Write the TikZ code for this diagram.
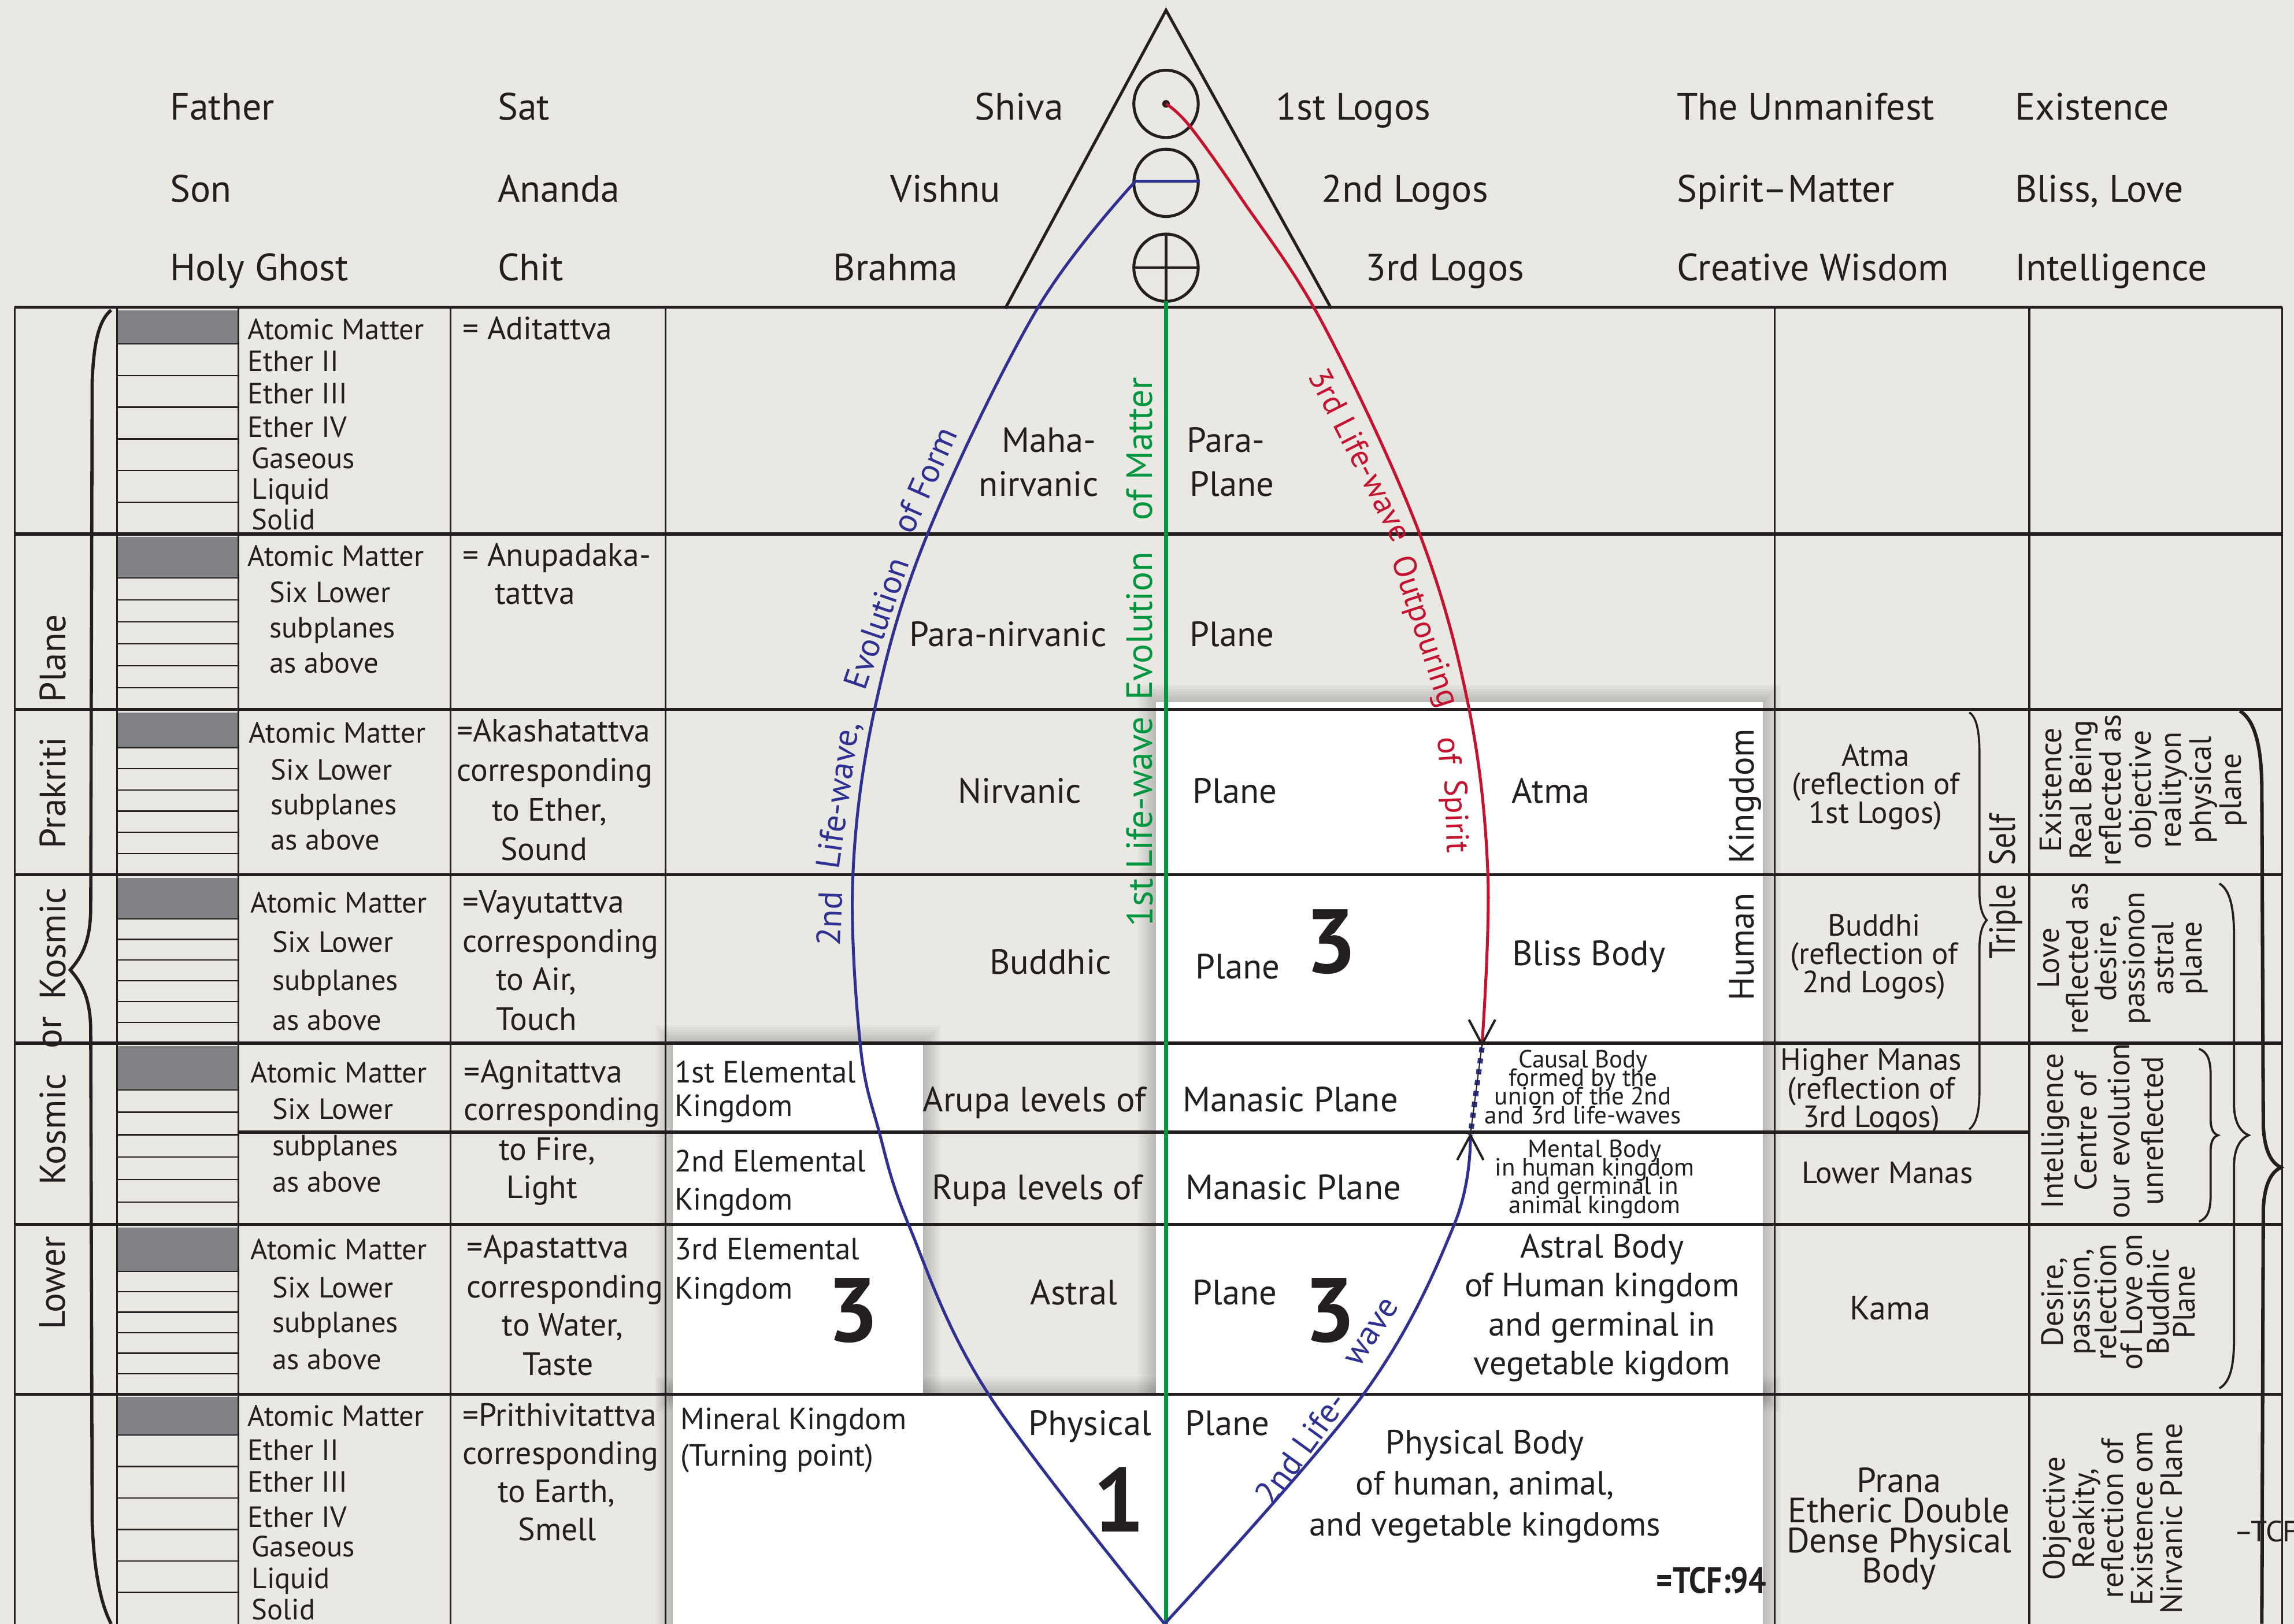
\documentclass[tikz,border=0pt]{standalone}
\usepackage{fontspec}
\setmainfont{PT Sans}
\newfontfamily\condf[FakeStretch=0.85]{PT Sans}
\usetikzlibrary{calc}
\newcommand\myfs[2]{\fontsize{#1}{#2}\selectfont\lineskiplimit=-100pt\relax}
\definecolor{paper}{HTML}{E9E8E3}
\definecolor{lblue}{HTML}{2E3192}
\definecolor{lred}{HTML}{C4122F}
\definecolor{lgreen}{HTML}{00963F}
\definecolor{boxgray}{HTML}{808285}
\definecolor{ink}{HTML}{231F20}
\begin{document}
\begin{tikzpicture}[x=1pt,y=-1pt,
  every node/.style={inner sep=0pt, text=ink},
  hdr/.style={anchor=base west, font=\myfs{26}{30}},
  hdrr/.style={anchor=base east, font=\myfs{26}{30}},
  sub/.style={anchor=base west, font=\myfs{20}{22}},
  tat/.style={anchor=base west, font=\myfs{22}{26}},
  king/.style={anchor=base west, font=\myfs{21}{24}},
  bigdig/.style={font=\bfseries\myfs{62}{62}},
  pl/.style={anchor=base, font=\myfs{24}{28}},
  bodyt/.style={align=center, font=\myfs{23}{26.5}},
  smallc/.style={align=center, font=\myfs{17}{12.7}},
  refl/.style={align=center, font=\myfs{21}{19.5}},
  vtxt/.style={rotate=90, align=center, font=\myfs{21}{20.5}},
  sidew/.style={rotate=90, font=\myfs{25}{30}},
  gw/.style={rotate=90, text=lgreen, font=\myfs{25}{30}},
  bw/.style={text=lblue, font=\myfs{23}{26}},
  rw/.style={text=lred, font=\myfs{22}{26}},
  hline/.style={draw=ink, line width=2.2pt},
  vline/.style={draw=ink, line width=1.3pt},
  subl/.style={draw=ink, line width=0.9pt},
  wave/.style={line width=2pt},
]
\useasboundingbox (0,0) rectangle (1568,1110);
\fill[paper] (0,0) rectangle (1568,1110);

% shadows and white panels
\foreach \r in {1,...,8}{
  \fill[black,opacity=0.025] ({790-1.5*\r},{480-1.5*\r}) rectangle ({1205+1.5*\r},{953+1.5*\r});
  \fill[black,opacity=0.025] ({460-1.5*\r},{713-1.5*\r}) rectangle ({631+1.5*\r},{953+1.5*\r});
  \fill[black,opacity=0.025] ({460-1.5*\r},{953-1.5*\r}) rectangle ({1205+1.5*\r},{1110+1.5*\r});
}
\fill[white] (790,480) rectangle (1205,953);
\fill[white] (460,713) rectangle (631,953);
\fill[white] (460,953) rectangle (1205,1110);

% subplane boxes
\foreach \ta/\tb/\tg in {210/365/23,365/485/28,485/598/24,598/713/28,713/837/30,837/953/30,953/1110/26}{
  \fill[boxgray] (80,{\ta+2}) rectangle (163,{\ta+2+\tg});
  \foreach \k in {0,...,5}{
    \draw[subl] (80,{\ta+2+\tg+\k*(\tb-\ta-2-\tg)/6}) -- (163,{\ta+2+\tg+\k*(\tb-\ta-2-\tg)/6});
  }
}

% table lines
\foreach \yy in {365,485,598,713,837,953} \draw[hline] (10,\yy) -- (1560,\yy);
\draw[hline] (163,774) -- (1387,774);
\draw[hline] (10,210) -- (1560,210);
\foreach \xx in {10,80,163,308,455,1213,1387,1560} \draw[vline] (\xx,210) -- (\xx,1110);

% triangle and circles
\draw[ink, line width=2pt, line join=miter] (687,211) -- (797,7) -- (910,211);
\draw[ink, line width=2pt] (797,71) ellipse [x radius=22pt, y radius=23pt];
\draw[ink, line width=2pt] (797,125) ellipse [x radius=22pt, y radius=23pt];
\draw[ink, line width=2pt] (797,183) ellipse [x radius=22pt, y radius=23pt];
\fill[ink] (797,71) circle [radius=2.6pt];
\draw[ink, line width=1.8pt] (797,160) -- (797,206);
\draw[ink, line width=1.8pt] (775,183) -- (819,183);

% life-waves
\draw[lgreen, line width=2.6pt] (797,206) -- (797,1110);
\draw[lblue, wave] (776,124) -- (820,124);
\draw[lblue, wave] plot[smooth, tension=0.6] coordinates {(776,124) (709,211) (634,365) (598,484) (583,598) (588,714) (601,774) (621,837) (675,952) (796,1110)};
\draw[lblue, wave] plot[smooth, tension=0.6] coordinates {(796,1110) (932,953) (994,837) (1005,776)};
\draw[lred, wave] plot[smooth, tension=0.6] coordinates {(797,71) (813,86) (848,135) (904,221) (970,364) (1004,484) (1017,598) (1013,714)};
\draw[lblue, line width=3.6pt, dash pattern=on 3.5pt off 4pt] (1013,716) -- (1005,776);
\draw[ink, line width=0.8pt] (1013,714) -- (1005,776);
\draw[ink, line width=1.6pt] (1004,697) -- (1013,714) -- (1022,697);
\draw[ink, line width=1.6pt] (996,793) -- (1005,776) -- (1014,793);

% braces
\draw[ink, line width=2.2pt] (76,212) .. controls (66,220) and (64,240) .. (63,260) -- (62,620) .. controls (62,645) and (55,655) .. (48,663) .. controls (55,671) and (62,681) .. (62,705) -- (63,1040) .. controls (64,1070) and (68,1095) .. (76,1110);
\draw[ink, line width=1.4pt] (1346,487) .. controls (1351,490) and (1353,500) .. (1353,515) -- (1353,610) .. controls (1353,622) and (1356,627) .. (1358,629) .. controls (1356,631) and (1353,636) .. (1353,648) -- (1353,745) .. controls (1353,760) and (1351,768) .. (1346,772);
\draw[ink, line width=1.5pt] (1503,717) .. controls (1509,719) and (1511,725) .. (1511,735) -- (1511,765) .. controls (1511,772) and (1513,775) .. (1516,776) .. controls (1513,777) and (1511,780) .. (1511,787) -- (1511,817) .. controls (1511,827) and (1509,833) .. (1503,835);
\draw[ink, line width=1.5pt] (1517,604) .. controls (1524,608) and (1527,620) .. (1527,640) -- (1527,755) .. controls (1527,768) and (1532,774) .. (1537,776) .. controls (1532,778) and (1527,784) .. (1527,797) -- (1527,915) .. controls (1527,935) and (1524,945) .. (1517,949);
\draw[ink, line width=2.4pt] (1531,486) .. controls (1541,492) and (1546,510) .. (1546,540) -- (1547,770) .. controls (1548,788) and (1553,795) .. (1559,798) .. controls (1553,801) and (1548,808) .. (1547,826) -- (1546,1110);

% header
\node[hdr] (father) at (116,82) {Father};
\node[hdr] (son) at (116,138) {Son};
\node[hdr] (holyghost) at (116,192) {Holy Ghost};
\node[hdr] (sat) at (340,82) {Sat};
\node[hdr] (ananda) at (340,138) {Ananda};
\node[hdr] (chit) at (340,192) {Chit};
\node[hdrr] (shiva) at (727,82) {Shiva};
\node[hdrr] (vishnu) at (684,138) {Vishnu};
\node[hdrr] (brahma) at (655,192) {Brahma};
\node[hdr] (logosa) at (872,82) {1st Logos};
\node[hdr] (logosb) at (903,138) {2nd Logos};
\node[hdr] (logosc) at (933,192) {3rd Logos};
\node[hdr] (unman) at (1146,82) {The Unmanifest};
\node[hdr] (spmat) at (1146,138) {Spirit–Matter};
\node[hdr] (crwis) at (1146,192) {Creative Wisdom};
\node[hdr] (exist) at (1377,82) {Existence};
\node[hdr] (bliss) at (1377,138) {Bliss, Love};
\node[hdr] (intel) at (1377,192) {Intelligence};

% left vertical title
\node[sidew] (wplane) at (36,450) {Plane};
\node[sidew] (wprak) at (36,542) {Prakriti};
\node[sidew] (wkosa) at (36,645) {Kosmic};
\node[sidew] (wor) at (36,706) {or};
\node[sidew] (wkosb) at (36,772) {Kosmic};
\node[sidew] (wlower) at (36,877) {Lower};

% subplane texts
\node[sub] (sa1) at (169,232) {Atomic Matter};
\node[sub] (sa2) at (169,254) {Ether II};
\node[sub] (sa3) at (169,276) {Ether III};
\node[sub] (sa4) at (169,299) {Ether IV};
\node[sub] (sa5) at (172,320) {Gaseous};
\node[sub] (sa6) at (172,341) {Liquid};
\node[sub] (sa7) at (172,362) {Solid};
\node[sub] (sb1) at (169,387) {Atomic Matter};
\node[sub] (sb2) at (184,412) {Six Lower};
\node[sub] (sb3) at (184,436) {subplanes};
\node[sub] (sb4) at (184,460) {as above};
\node[sub] (sc1) at (170,508) {Atomic Matter};
\node[sub] (sc2) at (185,533) {Six Lower};
\node[sub] (sc3) at (185,557) {subplanes};
\node[sub] (sc4) at (185,581) {as above};
\node[sub] (sd1) at (171,624) {Atomic Matter};
\node[sub] (sd2) at (186,651) {Six Lower};
\node[sub] (sd3) at (186,677) {subplanes};
\node[sub] (sd4) at (186,704) {as above};
\node[sub] (se1) at (171,740) {Atomic Matter};
\node[sub] (se2) at (186,765) {Six Lower};
\node[sub] (se3) at (186,790) {subplanes};
\node[sub] (se4) at (186,815) {as above};
\node[sub] (sf1) at (171,861) {Atomic Matter};
\node[sub] (sf2) at (186,887) {Six Lower};
\node[sub] (sf3) at (186,911) {subplanes};
\node[sub] (sf4) at (186,936) {as above};
\node[sub] (sg1) at (169,975) {Atomic Matter};
\node[sub] (sg2) at (169,998) {Ether II};
\node[sub] (sg3) at (169,1020) {Ether III};
\node[sub] (sg4) at (169,1044) {Ether IV};
\node[sub] (sg5) at (172,1064) {Gaseous};
\node[sub] (sg6) at (172,1086) {Liquid};
\node[sub] (sg7) at (172,1107) {Solid};

% tattva texts
\node[tat] (ta1) at (316,232) {= Aditattva};
\node[tat] (tb1) at (316,387) {= Anupadaka-};
\node[tat] (tb2) at (338,413) {tattva};
\node[tat] (tc1) at (312,507) {=Akashatattva};
\node[tat] (tc2) at (312,534) {corresponding};
\node[tat] (tc3) at (336,561) {to Ether,};
\node[tat] (tc4) at (342,588) {Sound};
\node[tat] (td1) at (316,624) {=Vayutattva};
\node[tat] (td2) at (316,651) {corresponding};
\node[tat] (td3) at (339,677) {to Air,};
\node[tat] (td4) at (339,704) {Touch};
\node[tat] (te1) at (317,740) {=Agnitattva};
\node[tat] (te2) at (317,766) {corresponding};
\node[tat] (te3) at (341,793) {to Fire,};
\node[tat] (te4) at (346,819) {Light};
\node[tat] (tf1) at (319,860) {=Apastattva};
\node[tat] (tf2) at (319,887) {corresponding};
\node[tat] (tf3) at (343,913) {to Water,};
\node[tat] (tf4) at (357,940) {Taste};
\node[tat] (tg1) at (316,975) {=Prithivitattva};
\node[tat] (tg2) at (316,1001) {corresponding};
\node[tat] (tg3) at (340,1027) {to Earth,};
\node[tat] (tg4) at (354,1053) {Smell};

% kingdoms
\node[king] (ka1) at (461,740) {1st Elemental};
\node[king] (ka2) at (461,763) {Kingdom};
\node[king] (kb1) at (461,801) {2nd Elemental};
\node[king] (kb2) at (461,827) {Kingdom};
\node[king] (kc1) at (461,861) {3rd Elemental};
\node[king] (kc2) at (461,888) {Kingdom};
\node[king] (kd1) at (465,977) {Mineral Kingdom};
\node[king] (kd2) at (465,1002) {(Turning point)};
\node[bigdig] (three1) at (583,896) {3};
\node[bigdig] (three2) at (910,644) {3};
\node[bigdig] (three3) at (909,896) {3};
\node[bigdig] (one) at (765,1025) {1};

% plane names
\node[pl] (maha) at (717,309) {Maha-};
\node[pl] (mahab) at (710,339) {nirvanic};
\node[pl] (paran) at (689,442) {Para-nirvanic};
\node[pl] (nirv) at (697,549) {Nirvanic};
\node[pl] (budd) at (718,666) {Buddhic};
\node[pl] (arupa) at (707,760) {Arupa levels of};
\node[pl] (rupa) at (709,820) {Rupa levels of};
\node[pl] (astral) at (734,892) {Astral};
\node[pl] (phys) at (745,981) {Physical};
\node[pl] (parap) at (838,309) {Para-};
\node[pl] (plane1) at (842,339) {Plane};
\node[pl] (plane2) at (842,442) {Plane};
\node[pl] (plane3) at (844,549) {Plane};
\node[pl] (plane4) at (846,669) {Plane};
\node[pl] (manas1) at (882,760) {Manasic Plane};
\node[pl] (manas2) at (884,820) {Manasic Plane};
\node[pl] (plane6) at (844,892) {Plane};
\node[pl] (plane7) at (839,981) {Plane};

% wave labels
\node[gw] (gm) at (779,307) {of Matter};
\node[gw] (ge) at (779,428) {Evolution};
\node[gw] (gl) at (779,542) {Life-wave};
\node[gw] (gf) at (779,617) {1st};
\node[bw, rotate=88] (bnd) at (567,628) {2nd};
\node[bw, rotate=82] (blw) at (574,544) {Life-wave,};
\node[bw, rotate=71] (bev) at (599,426) {Evolution};
\node[bw, rotate=66] (bof) at (632,328) {of Form};
\node[bw, rotate=54] (bnl) at (889,990) {2nd Life-};
\node[bw, rotate=57] (bwv) at (938,911) {wave};
\node[rw, rotate=-63] (r3) at (930,311) {3rd Life-wave};
\node[rw, rotate=-72] (rout) at (973,432) {Outpouring};
\node[rw, rotate=-86] (rof) at (991,513) {of};
\node[rw, rotate=-88] (rsp) at (994,558) {Spirit};

% bodies
\node[pl] (atma) at (1060,549) {Atma};
\node[pl] (blissb) at (1086,660) {Bliss Body};
\node[smallc] (causal) at (1082,743) {Causal Body\\formed by the\\union of the 2nd\\and 3rd life-waves};
\node[smallc] (mental) at (1090,806) {Mental Body\\in human kingdom\\and germinal in\\animal kingdom};
\node[bodyt] (astralb) at (1095,894) {Astral Body\\of Human kingdom\\and germinal in\\vegetable kigdom};
\node[bodyt, font=\myfs{23}{28}] (physb) at (1015,1016) {Physical Body\\of human, animal,\\and vegetable kingdoms};
\node[anchor=base west, font=\condf\bfseries\myfs{25}{26}] (tcf) at (1132,1089) {=TCF:94};
\node[rotate=90, font=\myfs{24}{28}] (humk) at (1193,591) {Human\hspace{20pt}Kingdom};

% reflection column
\node[refl] (ratma) at (1282,538) {Atma\\(reflection of\\1st Logos)};
\node[refl] (rbudd) at (1281,654) {Buddhi\\(reflection of\\2nd Logos)};
\node[refl] (rhm) at (1279,746) {Higher Manas\\(reflection of\\3rd Logos)};
\node[anchor=base, font=\myfs{21}{24}] (rlm) at (1290,809) {Lower Manas};
\node[anchor=base, font=\myfs{23}{26}] (rkama) at (1292,902) {Kama};
\node[refl, font=\myfs{24}{20.5}] (rprana) at (1298,1045) {Prana\\Etheric Double\\Dense Physical\\Body};
\node[rotate=90, font=\condf\myfs{25}{28}] (tself) at (1371,606) {Triple\hspace{13pt}Self};

% rightmost column
\node[vtxt] (v1) at (1465,540) {Existence\\Real Being\\reflected as\\objective\\realityon\\physical\\plane};
\node[vtxt, font=\myfs{21}{19.5}] (v2) at (1451,655) {Love\\reflected as\\desire,\\passionon\\astral\\plane};
\node[vtxt, font=\myfs{21}{22.7}] (v3) at (1437,773) {Intelligence\\Centre of\\our evolution\\unreflected};
\node[vtxt, font=\myfs{21}{18}] (v4) at (1448,890) {Desire,\\passion,\\relection\\of Love on\\Buddhic\\Plane};
\node[vtxt, font=\myfs{21}{20}] (v5) at (1444,1038) {Objective\\Reakity,\\reflection of\\Existence om\\Nirvanic Plane};
\node[anchor=base west, font=\myfs{20}{24}] (tcfb) at (1527,1054) {–TCF};
\end{tikzpicture}
\end{document}
